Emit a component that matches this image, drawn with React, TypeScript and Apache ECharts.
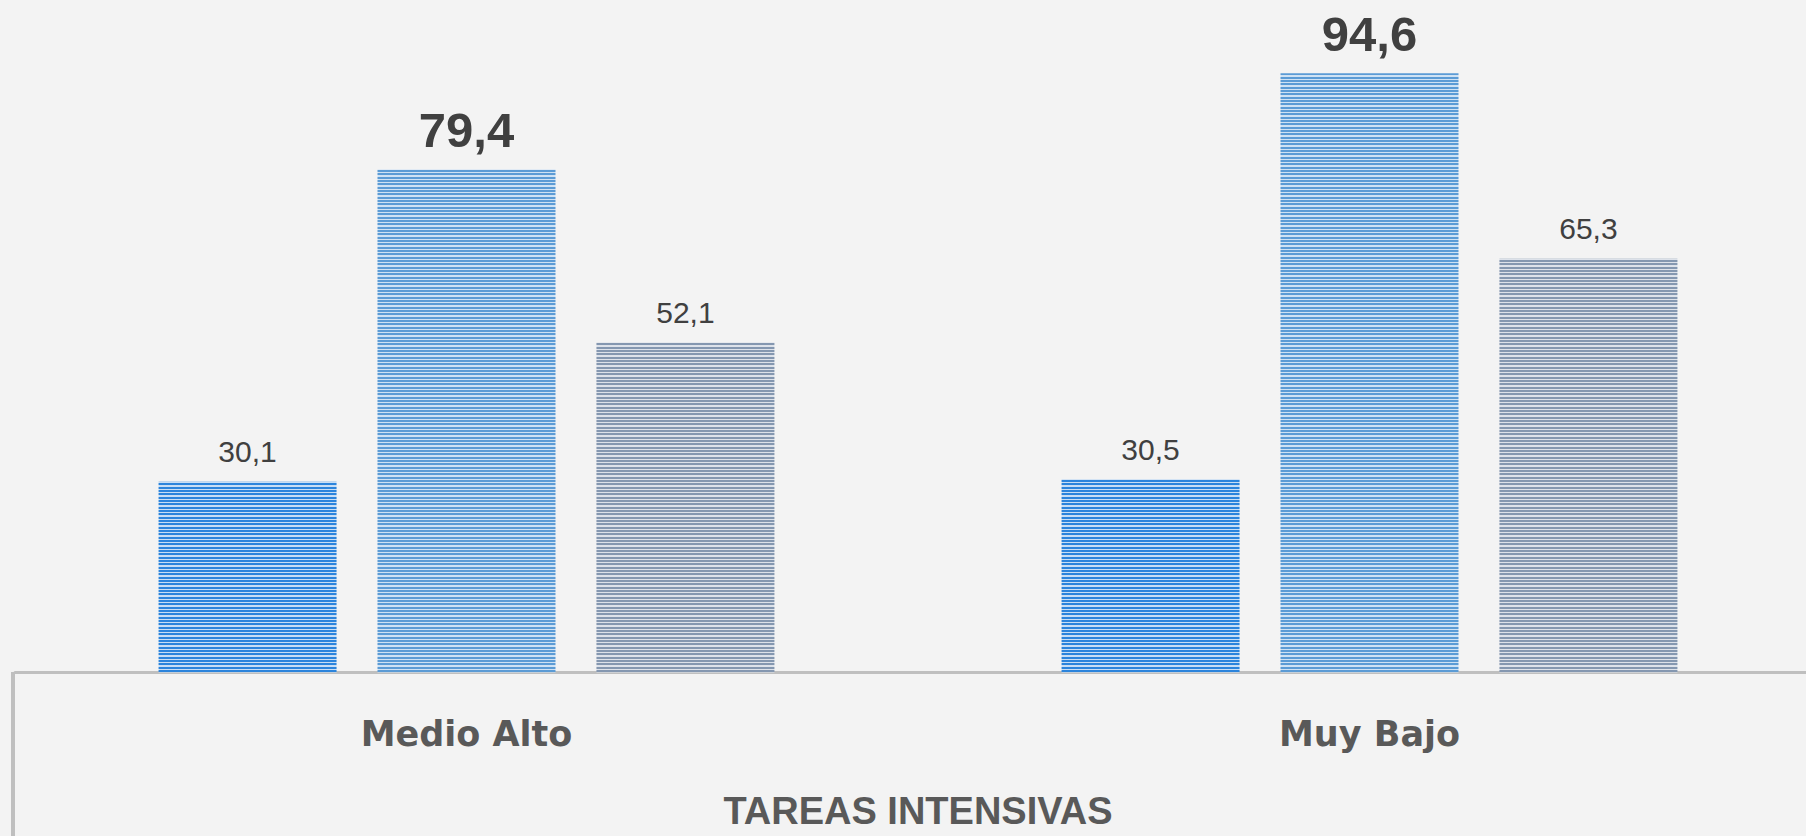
import React, { useEffect, useRef } from "react";
import * as echarts from "echarts";

const categories = ["Medio Alto", "Muy Bajo"];
const serieA = [30.1, 30.5];
const serieB = [79.4, 94.6];
const serieC = [52.1, 65.3];
const axisTitle = "TAREAS INTENSIVAS";

const fmt = (v: number) => v.toFixed(1).replace(".", ",");

function stripes(dark: string, light: string) {
  const c = document.createElement("canvas");
  c.width = 2;
  c.height = 10;
  const ctx = c.getContext("2d")!;
  const rows = "DDLDDLLDDL";
  for (let i = 0; i < rows.length; i++) {
    ctx.fillStyle = rows[i] === "D" ? dark : light;
    ctx.fillRect(0, i, 2, 1);
  }
  return { image: c, repeat: "repeat", imageWidth: 2, imageHeight: 10 } as any;
}

export default function App() {
  const ref = useRef<HTMLDivElement>(null);
  useEffect(() => {
    document.body.style.margin = "0";
    const chart = echarts.init(ref.current!, undefined, { renderer: "svg" });
    const numFont = "'Liberation Sans', Arial, sans-serif";
    const normalLabel = {
      show: true,
      position: "top",
      distance: 15,
      fontFamily: numFont,
      fontSize: 30,
      color: "#404040",
      formatter: (p: any) => fmt(p.value),
    };
    const boldLabel = {
      ...normalLabel,
      distance: 15,
      fontSize: 49,
      fontWeight: "bold",
    };
    chart.setOption({
      animation: false,
      backgroundColor: "#f3f3f3",
      grid: {
        left: 15,
        width: 1806,
        top: 39,
        height: 633.5,
        outerBoundsMode: "none",
        containLabel: false,
      },
      xAxis: {
        type: "category",
        data: categories,
        axisLine: { show: true, lineStyle: { color: "#bfbfbf", width: 3 } },
        axisTick: { show: false },
        axisLabel: {
          margin: 44,
          fontFamily: "'DejaVu Sans', sans-serif",
          fontWeight: "bold",
          fontSize: 35,
          color: "#595959",
        },
        name: axisTitle,
        nameLocation: "middle",
        nameGap: 119,
        nameTextStyle: {
          fontFamily: "'Liberation Sans', Arial, sans-serif",
          fontWeight: "bold",
          fontSize: 38,
          color: "#595959",
        },
      },
      yAxis: { type: "value", min: 0, max: 100, show: false },
      series: [
        {
          name: "Serie 1",
          type: "bar",
          data: serieA,
          barWidth: 178,
          barGap: "23%",
          itemStyle: { color: stripes("#2b84dc", "#c8def5") },
          label: normalLabel,
        },
        {
          name: "Serie 2",
          type: "bar",
          data: serieB,
          barWidth: 178,
          barGap: "23%",
          itemStyle: { color: stripes("#5b9bd5", "#cfe2f4") },
          label: boldLabel,
        },
        {
          name: "Serie 3",
          type: "bar",
          data: serieC,
          barWidth: 178,
          barGap: "23%",
          itemStyle: { color: stripes("#8497b0", "#dde2ea") },
          label: normalLabel,
        },
      ],
      graphic: [
        {
          type: "line",
          shape: { x1: 13, y1: 672, x2: 13, y2: 836 },
          style: { stroke: "#bfbfbf", lineWidth: 4 },
          silent: true,
        },
      ],
    });
    return () => chart.dispose();
  }, []);
  return (
    <div
      ref={ref}
      style={{ position: "absolute", left: 0, top: 0, width: 1806, height: 836 }}
    />
  );
}
